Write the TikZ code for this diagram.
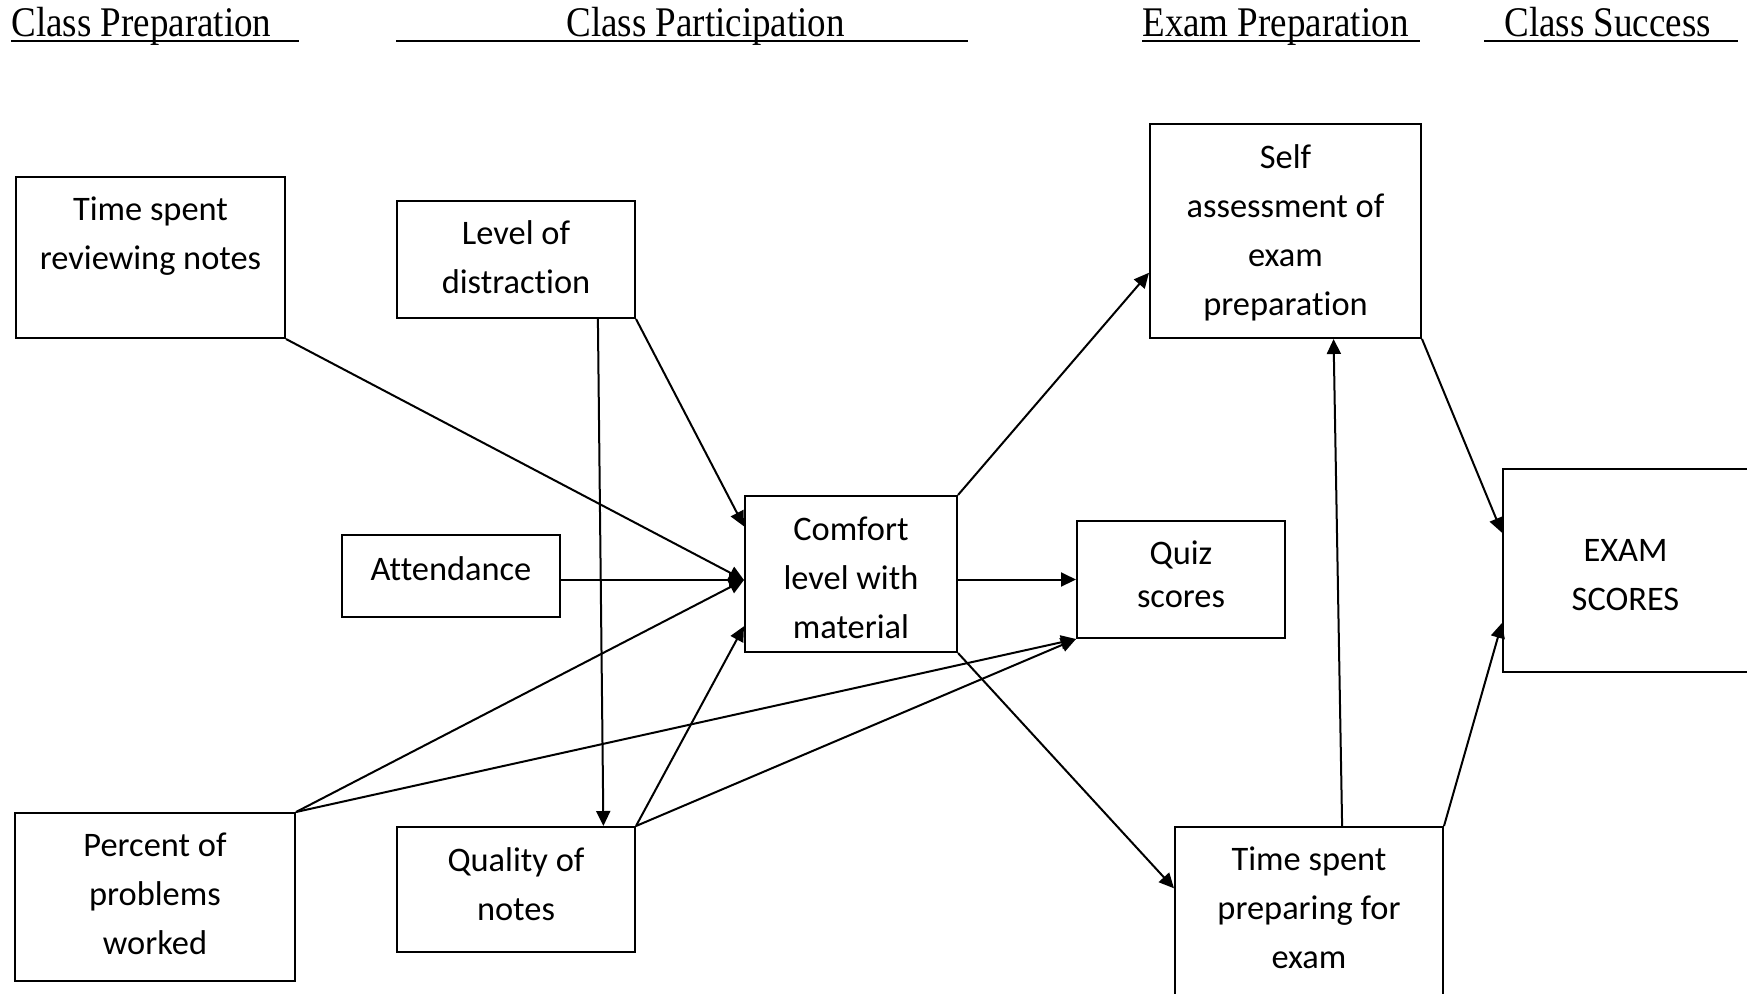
\documentclass[tikz,border=0pt]{standalone}
\usepackage{fontspec}
\setmainfont{Carlito}[Ligatures=CommonOff]
\newfontfamily\headfont{Liberation Serif}
\usetikzlibrary{arrows.meta}

\begin{document}
\begin{tikzpicture}[x=0.5pt,y=-0.5pt]
\tikzstyle{box}=[draw, line width=1pt, inner sep=0pt]
\tikzstyle{lbl}=[inner sep=0pt, align=center, font=\fontsize{17.2pt}{24.5pt}\selectfont]
\tikzstyle{head}=[inner sep=0pt, anchor=base west, font=\headfont\fontsize{18.5pt}{20pt}\selectfont]
\tikzstyle{link}=[line width=1pt, -{Triangle[length=7.5pt,width=7pt]}]
\tikzstyle{uline}=[line width=1.2pt]
\useasboundingbox (0,0) rectangle (1747,993);

% column headings
\node[head] (prephead) at (11,36) {\scalebox{1}[1.14]{Class Preparation}};
\node[head] (parthead) at (566,36) {\scalebox{1}[1.14]{Class Participation}};
\node[head] (examhead) at (1142,36) {\scalebox{1}[1.14]{Exam Preparation}};
\node[head] (succhead) at (1504,36) {\scalebox{1}[1.14]{Class Success}};
\foreach \a/\b in {11/299, 396/968, 1142/1420, 1484/1738}
\draw [uline] (\a,41) -- (\b,41);

\node[box, minimum width=134.5pt, minimum height=80.5pt, label={[lbl]center:Time spent\\reviewing notes\\\mbox{}}] (rev) at (150.5,257.5) {};
\node[box, minimum width=119pt, minimum height=58.5pt, label={[lbl, yshift=1.1pt]center:Level of\\distraction}] (dist) at (516,259.5) {};
\node[box, minimum width=109pt, minimum height=41pt, label={[lbl, yshift=3.9pt]center:Attendance}] (att) at (451,576) {};
\node[box, minimum width=140pt, minimum height=84pt, label={[lbl, yshift=1.7pt]center:Percent of\\problems\\worked}] (prob) at (155,897) {};
\node[box, minimum width=119pt, minimum height=62.5pt, label={[lbl, yshift=2.8pt]center:Quality of\\notes}] (qual) at (516,889.5) {};
\node[box, minimum width=106pt, minimum height=78pt, label={[lbl, yshift=-2pt]center:Comfort\\level with\\material}] (comf) at (851,574) {};
\node[box, minimum width=104pt, minimum height=58.5pt, label={[lbl, yshift=2.5pt, font=\fontsize{17.2pt}{21.5pt}\selectfont]center:Quiz\\scores}] (quiz) at (1181,579.5) {};
\node[box, minimum width=135.5pt, minimum height=107pt, label={[lbl, yshift=-0.8pt]center:Self\\assessment of\\exam\\preparation}] (self) at (1285.5,231) {};
\node[box, minimum width=134pt, minimum height=90pt, label={[lbl, yshift=4.5pt]center:Time spent\\preparing for\\exam}] (prep) at (1309,917) {};
\node[box, minimum width=122.5pt, minimum height=101.5pt, label={[lbl, yshift=-2.2pt]center:EXAM\\SCORES}] (exam) at (1625.5,570.5) {};

\coordinate (cw) at ([yshift=-3pt]comf.west);

\foreach \from/\to in {rev.south east/cw, att.east |- cw/cw, prob.north east/cw, dist.south east/comf.156, qual.north east/comf.206, dist.324/qual.36, prob.north east/quiz.south west, qual.north east/quiz.south west, comf.east |- quiz.west/quiz.west, comf.north east/self.197, comf.south east/prep.168, self.south east/exam.163, prep.north east/exam.203, prep.70/self.294}
\draw [link] (\from) -- (\to);

\end{tikzpicture}
\end{document}
